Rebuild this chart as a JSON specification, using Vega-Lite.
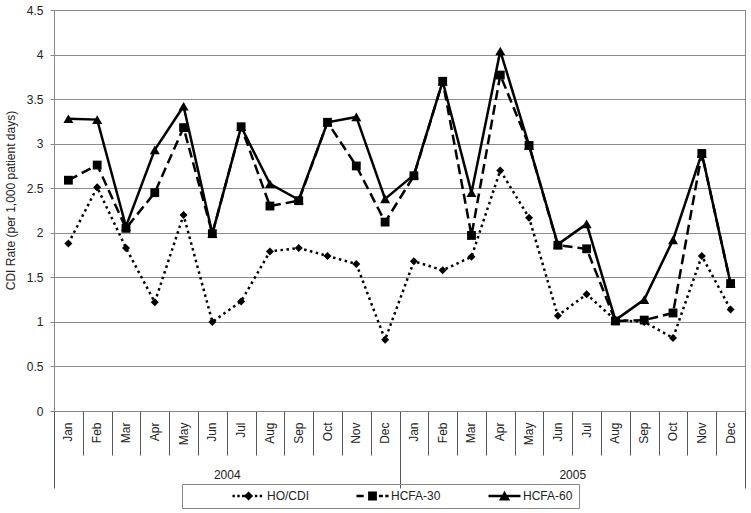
{
  "$schema": "https://vega.github.io/schema/vega-lite/v6.json",
  "width": 691,
  "height": 401,
  "autosize": {"type": "none"},
  "padding": {"left": 54, "top": 10, "right": 6, "bottom": 102},
  "background": "white",
  "config": {
    "font": "Liberation Sans",
    "view": {"stroke": "#888", "strokeWidth": 1},
    "axis": {"labelFont": "Liberation Sans", "labelFontSize": 12, "labelColor": "#222", "titleFont": "Liberation Sans"}
  },
  "data": {
    "values": [
      {"period": "2004-Jan", "series": "HCFA-60", "rate": 3.28},
      {"period": "2004-Feb", "series": "HCFA-60", "rate": 3.27},
      {"period": "2004-Mar", "series": "HCFA-60", "rate": 2.07},
      {"period": "2004-Apr", "series": "HCFA-60", "rate": 2.93},
      {"period": "2004-May", "series": "HCFA-60", "rate": 3.42},
      {"period": "2004-Jun", "series": "HCFA-60", "rate": 1.99},
      {"period": "2004-Jul", "series": "HCFA-60", "rate": 3.19},
      {"period": "2004-Aug", "series": "HCFA-60", "rate": 2.55},
      {"period": "2004-Sep", "series": "HCFA-60", "rate": 2.37},
      {"period": "2004-Oct", "series": "HCFA-60", "rate": 3.24},
      {"period": "2004-Nov", "series": "HCFA-60", "rate": 3.30},
      {"period": "2004-Dec", "series": "HCFA-60", "rate": 2.38},
      {"period": "2005-Jan", "series": "HCFA-60", "rate": 2.65},
      {"period": "2005-Feb", "series": "HCFA-60", "rate": 3.70},
      {"period": "2005-Mar", "series": "HCFA-60", "rate": 2.45},
      {"period": "2005-Apr", "series": "HCFA-60", "rate": 4.04},
      {"period": "2005-May", "series": "HCFA-60", "rate": 2.98},
      {"period": "2005-Jun", "series": "HCFA-60", "rate": 1.87},
      {"period": "2005-Jul", "series": "HCFA-60", "rate": 2.10},
      {"period": "2005-Aug", "series": "HCFA-60", "rate": 1.02},
      {"period": "2005-Sep", "series": "HCFA-60", "rate": 1.25},
      {"period": "2005-Oct", "series": "HCFA-60", "rate": 1.92},
      {"period": "2005-Nov", "series": "HCFA-60", "rate": 2.89},
      {"period": "2005-Dec", "series": "HCFA-60", "rate": 1.43},
      {"period": "2004-Jan", "series": "HO/CDI", "rate": 1.88},
      {"period": "2004-Feb", "series": "HO/CDI", "rate": 2.51},
      {"period": "2004-Mar", "series": "HO/CDI", "rate": 1.83},
      {"period": "2004-Apr", "series": "HO/CDI", "rate": 1.22},
      {"period": "2004-May", "series": "HO/CDI", "rate": 2.20},
      {"period": "2004-Jun", "series": "HO/CDI", "rate": 1.00},
      {"period": "2004-Jul", "series": "HO/CDI", "rate": 1.23},
      {"period": "2004-Aug", "series": "HO/CDI", "rate": 1.79},
      {"period": "2004-Sep", "series": "HO/CDI", "rate": 1.83},
      {"period": "2004-Oct", "series": "HO/CDI", "rate": 1.74},
      {"period": "2004-Nov", "series": "HO/CDI", "rate": 1.65},
      {"period": "2004-Dec", "series": "HO/CDI", "rate": 0.80},
      {"period": "2005-Jan", "series": "HO/CDI", "rate": 1.68},
      {"period": "2005-Feb", "series": "HO/CDI", "rate": 1.58},
      {"period": "2005-Mar", "series": "HO/CDI", "rate": 1.73},
      {"period": "2005-Apr", "series": "HO/CDI", "rate": 2.70},
      {"period": "2005-May", "series": "HO/CDI", "rate": 2.17},
      {"period": "2005-Jun", "series": "HO/CDI", "rate": 1.07},
      {"period": "2005-Jul", "series": "HO/CDI", "rate": 1.31},
      {"period": "2005-Aug", "series": "HO/CDI", "rate": 1.02},
      {"period": "2005-Sep", "series": "HO/CDI", "rate": 1.00},
      {"period": "2005-Oct", "series": "HO/CDI", "rate": 0.82},
      {"period": "2005-Nov", "series": "HO/CDI", "rate": 1.74},
      {"period": "2005-Dec", "series": "HO/CDI", "rate": 1.14},
      {"period": "2004-Jan", "series": "HCFA-30", "rate": 2.59},
      {"period": "2004-Feb", "series": "HCFA-30", "rate": 2.76},
      {"period": "2004-Mar", "series": "HCFA-30", "rate": 2.05},
      {"period": "2004-Apr", "series": "HCFA-30", "rate": 2.45},
      {"period": "2004-May", "series": "HCFA-30", "rate": 3.18},
      {"period": "2004-Jun", "series": "HCFA-30", "rate": 1.99},
      {"period": "2004-Jul", "series": "HCFA-30", "rate": 3.19},
      {"period": "2004-Aug", "series": "HCFA-30", "rate": 2.30},
      {"period": "2004-Sep", "series": "HCFA-30", "rate": 2.36},
      {"period": "2004-Oct", "series": "HCFA-30", "rate": 3.24},
      {"period": "2004-Nov", "series": "HCFA-30", "rate": 2.75},
      {"period": "2004-Dec", "series": "HCFA-30", "rate": 2.12},
      {"period": "2005-Jan", "series": "HCFA-30", "rate": 2.64},
      {"period": "2005-Feb", "series": "HCFA-30", "rate": 3.70},
      {"period": "2005-Mar", "series": "HCFA-30", "rate": 1.97},
      {"period": "2005-Apr", "series": "HCFA-30", "rate": 3.77},
      {"period": "2005-May", "series": "HCFA-30", "rate": 2.98},
      {"period": "2005-Jun", "series": "HCFA-30", "rate": 1.86},
      {"period": "2005-Jul", "series": "HCFA-30", "rate": 1.82},
      {"period": "2005-Aug", "series": "HCFA-30", "rate": 1.01},
      {"period": "2005-Sep", "series": "HCFA-30", "rate": 1.02},
      {"period": "2005-Oct", "series": "HCFA-30", "rate": 1.10},
      {"period": "2005-Nov", "series": "HCFA-30", "rate": 2.89},
      {"period": "2005-Dec", "series": "HCFA-30", "rate": 1.43}
    ]
  },
  "encoding": {
    "y": {
      "field": "rate",
      "type": "quantitative",
      "scale": {"domain": [0, 4.5], "nice": false, "zero": true},
      "axis": {
        "title": "CDI Rate (per 1,000 patient days)",
        "values": [0, 0.5, 1, 1.5, 2, 2.5, 3, 3.5, 4, 4.5],
        "format": "~g",
        "grid": true,
        "gridColor": "#8c8c8c",
        "gridWidth": 1,
        "tickSize": 4,
        "tickColor": "#888",
        "domainColor": "#888",
        "labelPadding": 7,
        "titleFontSize": 12,
        "titleFontWeight": "normal",
        "titleColor": "#222",
        "titlePadding": 9,
        "titleY": 190
      }
    }
  },
  "layer": [
    {
      "transform": [{"filter": "datum.series === 'HCFA-60'"}],
      "mark": {"type": "line", "strokeWidth": 2.5, "color": "black", "strokeCap": "butt"},
      "encoding": {
        "x": {
          "field": "period",
          "type": "ordinal",
          "scale": {
            "domain": ["2004-Jan","2004-Feb","2004-Mar","2004-Apr","2004-May","2004-Jun","2004-Jul","2004-Aug","2004-Sep","2004-Oct","2004-Nov","2004-Dec","2005-Jan","2005-Feb","2005-Mar","2005-Apr","2005-May","2005-Jun","2005-Jul","2005-Aug","2005-Sep","2005-Oct","2005-Nov","2005-Dec"],
            "paddingInner": 0,
            "paddingOuter": 0
          },
          "axis": {
            "orient": "bottom",
            "title": null,
            "tickBand": "extent",
            "tickColor": "#555",
            "tickSize": {"condition": {"test": "datum.value === '2004-Dec' || datum.value === '2005-Dec' || datum.extra", "value": 77}, "value": 44},
            "domainColor": "#888",
            "labelExpr": "datum.value === '2004-Jun' || datum.value === '2005-Jun' ? slice(datum.value, 0, 4) : ''",
            "labelAngle": 0,
            "labelAlign": "center",
            "labelBaseline": "top",
            "labelOffset": 14.4,
            "labelPadding": 14,
            "labelOverlap": false,
            "grid": false
          }
        }
      }
    },
    {
      "transform": [{"filter": "datum.series === 'HO/CDI'"}],
      "mark": {"type": "line", "strokeWidth": 2.5, "color": "black", "strokeCap": "butt", "strokeDash": [2.5, 3.5]},
      "encoding": {
        "x": {"field": "period", "type": "ordinal", "axis": null}
      }
    },
    {
      "transform": [{"filter": "datum.series === 'HCFA-30'"}],
      "mark": {"type": "line", "strokeWidth": 2.5, "color": "black", "strokeCap": "butt", "strokeDash": [10, 5]},
      "encoding": {
        "x": {"field": "period", "type": "ordinal", "axis": null}
      }
    },
    {
      "transform": [{"filter": "datum.series === 'HCFA-60'"}],
      "mark": {"type": "point", "shape": "triangle-up", "size": 100, "filled": true, "color": "black", "opacity": 1},
      "encoding": {
        "x": {
          "field": "period",
          "type": "ordinal",
          "axis": {
            "orient": "bottom",
            "title": null,
            "ticks": false,
            "tickSize": 0,
            "domain": false,
            "grid": false,
            "labelExpr": "slice(datum.value, 5)",
            "labelAngle": -90,
            "labelAlign": "right",
            "labelBaseline": "middle",
            "labelPadding": 11,
            "labelOverlap": false
          }
        }
      }
    },
    {
      "transform": [{"filter": "datum.series === 'HO/CDI'"}],
      "mark": {"type": "point", "shape": "diamond", "size": 64, "filled": true, "color": "black", "opacity": 1},
      "encoding": {
        "x": {"field": "period", "type": "ordinal", "axis": null}
      }
    },
    {
      "transform": [{"filter": "datum.series === 'HCFA-30'"}],
      "mark": {"type": "point", "shape": "square", "size": 78, "filled": true, "color": "black", "opacity": 1},
      "encoding": {
        "x": {"field": "period", "type": "ordinal", "axis": null}
      }
    },
    {
      "mark": {"type": "point", "filled": true, "color": "black", "opacity": 0},
      "encoding": {
        "x": {"field": "period", "type": "ordinal", "axis": null},
        "shape": {
          "field": "series",
          "type": "nominal",
          "scale": {
            "domain": ["HO/CDI", "HCFA-30", "HCFA-60"],
            "range": [
              "M-4,-0.3h0.6v0.6h-0.6Z M-2.8,-0.3h0.6v0.6h-0.6Z M-1.6,-0.3h0.6v0.6h-0.6Z M0,-1.15L1.15,0L0,1.15L-1.15,0Z M1.6,-0.3h0.6v0.6h-0.6Z M2.8,-0.3h0.6v0.6h-0.6Z",
              "M-4,-0.3h1.8v0.6h-1.8Z M-1.1,-1.1h2.2v2.2h-2.2Z M1.6,-0.3h1v0.6h-1Z M3.2,-0.3h0.8v0.6h-0.8Z",
              "M-4,-0.3h8v0.6h-8Z M0,-1.3L1.4,1.1L-1.4,1.1Z"
            ]
          },
          "legend": {
            "title": null,
            "orient": "none",
            "legendX": 128,
            "legendY": 474,
            "direction": "horizontal",
            "strokeColor": "#888",
            "padding": 6,
            "symbolSize": 64,
            "symbolOpacity": 1,
            "symbolFillColor": "black",
            "symbolStrokeWidth": 0,
            "symbolOffset": 54.5,
            "labelOffset": 12.5,
            "columnPadding": 3,
            "labelFont": "Liberation Sans",
            "labelFontSize": 12,
            "labelColor": "#222"
          }
        }
      }
    }
  ],
  "resolve": {"axis": {"x": "independent"}}
}
